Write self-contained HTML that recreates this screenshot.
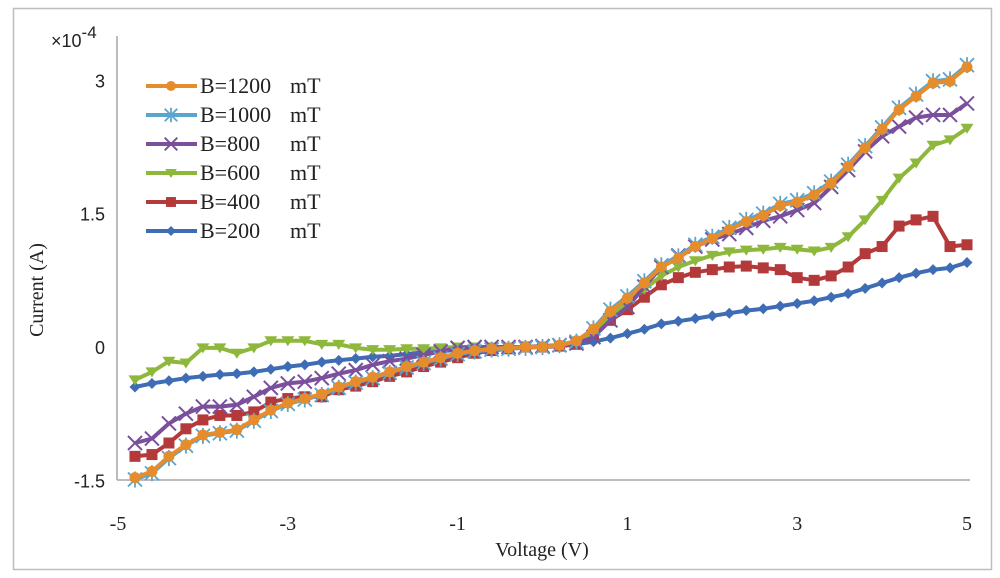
<!DOCTYPE html>
<html><head><meta charset="utf-8"><style>
html,body{margin:0;padding:0;background:#fff;}
svg{display:block;}
</style></head><body>
<svg id="chart" width="1000" height="578" xmlns="http://www.w3.org/2000/svg">
<rect x="13.5" y="8.5" width="978" height="561" fill="#fff" stroke="#bdbdbd" stroke-width="1.5"/>
<g id="axes"></g>
<g id="series"></g>
<g id="legend"></g>
</svg>
<script>
const voltages = [];
for (let i = 0; i < 50; i++) voltages.push(Math.round((-4.8 + i * 0.2) * 10) / 10);
const xTicks = [-5, -3, -1, 1, 3, 5];
const yTicks = [-1.5, 0, 1.5, 3];
const yTickLabels = ["-1.5", "0", "1.5", "3"];
const seriesNames = ["B=1200", "B=1000", "B=800", "B=600", "B=400", "B=200"];
const b1200 = [-1.47,-1.40,-1.23,-1.10,-0.99,-0.96,-0.93,-0.82,-0.71,-0.63,-0.58,-0.53,-0.45,-0.39,-0.34,-0.28,-0.22,-0.17,-0.12,-0.07,
 -0.04,-0.02,-0.01,0,0,0.02,0.07,
 0.2,0.4,0.55,0.72,0.9,1.0,1.13,1.22,1.32,1.41,1.48,1.59,1.63,1.71,1.84,2.03,2.24,2.45,2.67,2.82,2.97,2.99,3.15];
const b1000 = [-1.49,-1.42,-1.25,-1.11,-1.0,-0.97,-0.94,-0.83,-0.72,-0.64,-0.59,-0.54,-0.46,-0.40,-0.35,-0.29,-0.23,-0.18,-0.13,-0.08,
 -0.05,-0.03,-0.02,-0.01,0,0.02,0.06,
 0.21,0.42,0.57,0.74,0.92,1.02,1.15,1.24,1.34,1.43,1.5,1.61,1.65,1.73,1.86,2.05,2.26,2.47,2.69,2.84,2.99,3.01,3.17];
const b800 = [-1.08,-1.03,-0.86,-0.75,-0.67,-0.67,-0.65,-0.56,-0.46,-0.41,-0.39,-0.35,-0.30,-0.26,-0.20,-0.16,-0.13,-0.09,-0.05,-0.01,
 0,0,0,0,0.01,0.02,0.04,
 0.11,0.3,0.45,0.68,0.9,1.03,1.13,1.21,1.27,1.34,1.42,1.47,1.54,1.62,1.8,1.99,2.2,2.37,2.48,2.58,2.61,2.61,2.74];
const b600 = [-0.37,-0.28,-0.16,-0.18,-0.01,-0.01,-0.07,-0.01,0.07,0.07,0.07,0.03,0.03,-0.01,-0.03,-0.03,-0.02,-0.02,-0.01,0.0,
 0,0,0,0,0.01,0.02,0.04,
 0.15,0.35,0.5,0.65,0.8,0.9,0.97,1.03,1.07,1.09,1.10,1.12,1.10,1.08,1.12,1.24,1.43,1.65,1.9,2.07,2.27,2.33,2.46];
const b400 = [-1.23,-1.21,-1.08,-0.92,-0.82,-0.77,-0.77,-0.73,-0.62,-0.58,-0.56,-0.56,-0.48,
 -0.44,-0.39,-0.33,-0.28,-0.22,-0.17,-0.12,-0.07,-0.04,-0.02,0,0,0.01,0.03,
 0.15,0.3,0.42,0.56,0.7,0.78,0.84,0.87,0.9,0.91,0.89,0.87,0.78,0.75,0.8,0.9,1.05,1.13,1.36,1.43,1.47,1.13,1.15];
const b200 = [-0.45,-0.41,-0.38,-0.35,-0.33,-0.31,-0.30,-0.28,-0.25,-0.22,-0.20,-0.17,-0.15,-0.13,-0.11,-0.10,-0.08,-0.06,-0.05,-0.03,
 -0.02,-0.01,0,0,0,0.01,0.03,
 0.06,0.1,0.15,0.2,0.26,0.29,0.32,0.35,0.38,0.41,0.43,0.46,0.49,0.52,0.56,0.6,0.66,0.72,0.78,0.83,0.87,0.89,0.95];

const NS = "http://www.w3.org/2000/svg";
const X0 = 118, X1 = 967, Y0 = 347, YPU = 88.9;
function xS(v){ return X0 + (v + 5) / 10 * (X1 - X0); }
function yS(v){ return Y0 - v * YPU; }
function mk(tag, attrs, parent){
  const e = document.createElementNS(NS, tag);
  for (const k in attrs) e.setAttribute(k, attrs[k]);
  parent.appendChild(e); return e;
}
const axes = document.getElementById('axes');
let l = mk('line', {x1:117, y1:36, x2:117, y2:480, stroke:'#a6a6a6', 'stroke-width':1.5}, axes);


l = mk('line', {x1:117, y1:480, x2:970, y2:480, stroke:'#a6a6a6', 'stroke-width':1.5}, axes);


yTicks.forEach((t, i) => {
  const e = mk('text', {x:105, y:yS(t) + 7, 'text-anchor':'end', 'font-family':'Liberation Sans, sans-serif', 'font-size':18, fill:'#222'}, axes);
  e.textContent = yTickLabels[i];
  
  
});
xTicks.forEach(t => {
  const e = mk('text', {x:xS(t), y:530, 'text-anchor':'middle', 'font-family':'Liberation Serif, serif', 'font-size':20, fill:'#222'}, axes);
  e.textContent = String(t);
  
  
});
let t = mk('text', {x:542, y:556, 'text-anchor':'middle', 'font-family':'Liberation Serif, serif', 'font-size':20, fill:'#222'}, axes);
t.textContent = 'Voltage (V)';


t = mk('text', {x:0, y:0, 'text-anchor':'middle', 'font-family':'Liberation Serif, serif', 'font-size':20, fill:'#222', transform:'translate(43,290) rotate(-90)'}, axes);
t.textContent = 'Current (A)';


t = mk('text', {x:51, y:47, 'font-family':'Liberation Sans, sans-serif', 'font-size':18, fill:'#222'}, axes);
t.innerHTML = '×10<tspan dy="-9" font-size="17">-4</tspan>';



const colors = {"B=1200":"#e58d2c","B=1000":"#5aa5cf","B=800":"#7a4f9c","B=600":"#8db83b","B=400":"#b3393a","B=200":"#3e6db5"};
const markers = {"B=1200":"circle","B=1000":"star","B=800":"x","B=600":"tri","B=400":"square","B=200":"diamond"};
function marker(type, cx, cy, c, g, s){
  s = s || 1;
  if (type === 'circle') return mk('circle', {cx, cy, r:5.5*s, fill:c}, g);
  if (type === 'square') return mk('rect', {x:cx-5.5*s, y:cy-5.5*s, width:11*s, height:11*s, fill:c}, g);
  if (type === 'diamond') return mk('polygon', {points:`${cx},${cy-5.5*s} ${cx+5.5*s},${cy} ${cx},${cy+5.5*s} ${cx-5.5*s},${cy}`, fill:c}, g);
  if (type === 'tri') return mk('polygon', {points:`${cx-6.5*s},${cy-4.5*s} ${cx+6.5*s},${cy-4.5*s} ${cx},${cy+5.5*s}`, fill:c}, g);
  if (type === 'x') return mk('path', {d:`M${cx-7*s} ${cy-7*s}L${cx+7*s} ${cy+7*s}M${cx+7*s} ${cy-7*s}L${cx-7*s} ${cy+7*s}`, stroke:c, 'stroke-width':2, fill:'none'}, g);
  return mk('path', {d:`M${cx-7*s} ${cy-7*s}L${cx+7*s} ${cy+7*s}M${cx+7*s} ${cy-7*s}L${cx-7*s} ${cy+7*s}M${cx} ${cy-8*s}L${cx} ${cy+8*s}`, stroke:c, 'stroke-width':1.8, fill:'none'}, g);
}
const dataMap = {"B=1200":b1200,"B=1000":b1000,"B=800":b800,"B=600":b600,"B=400":b400,"B=200":b200};
const drawOrder = ["B=200","B=400","B=600","B=800","B=1000","B=1200"];
const sg = document.getElementById('series');
drawOrder.forEach(name => {
  const vals = dataMap[name], c = colors[name];
  const g = mk('g', {}, sg);
  
  
  const pts = vals.map((v, i) => xS(voltages[i]).toFixed(1) + ',' + yS(v).toFixed(1)).join(' ');
  const pl = mk('polyline', {points:pts, fill:'none', stroke:c, 'stroke-width':4, 'stroke-linejoin':'round'}, g);
  
  
  vals.forEach((v, i) => {
    const m = marker(markers[name], xS(voltages[i]), yS(v), c, g);
    
    
  });
});
const lg = document.getElementById('legend');
const rowsY = [86, 115, 144, 173, 202, 231];
seriesNames.forEach((name, i) => {
  const y = rowsY[i], c = colors[name];
  const g = mk('g', {}, lg);
  
  
  mk('line', {x1:146, y1:y, x2:197, y2:y, stroke:c, 'stroke-width':4}, g);
  marker(markers[name], 171, y, c, g, 0.9);
  const tx = mk('text', {x:200, y:y + 7, 'font-family':'Liberation Serif, serif', 'font-size':22, fill:'#222'}, g);
  tx.textContent = name;
  const tu = mk('text', {x:290, y:y + 7, 'font-family':'Liberation Serif, serif', 'font-size':22, fill:'#222'}, g);
  tu.textContent = 'mT';
});
</script>
</body></html>
